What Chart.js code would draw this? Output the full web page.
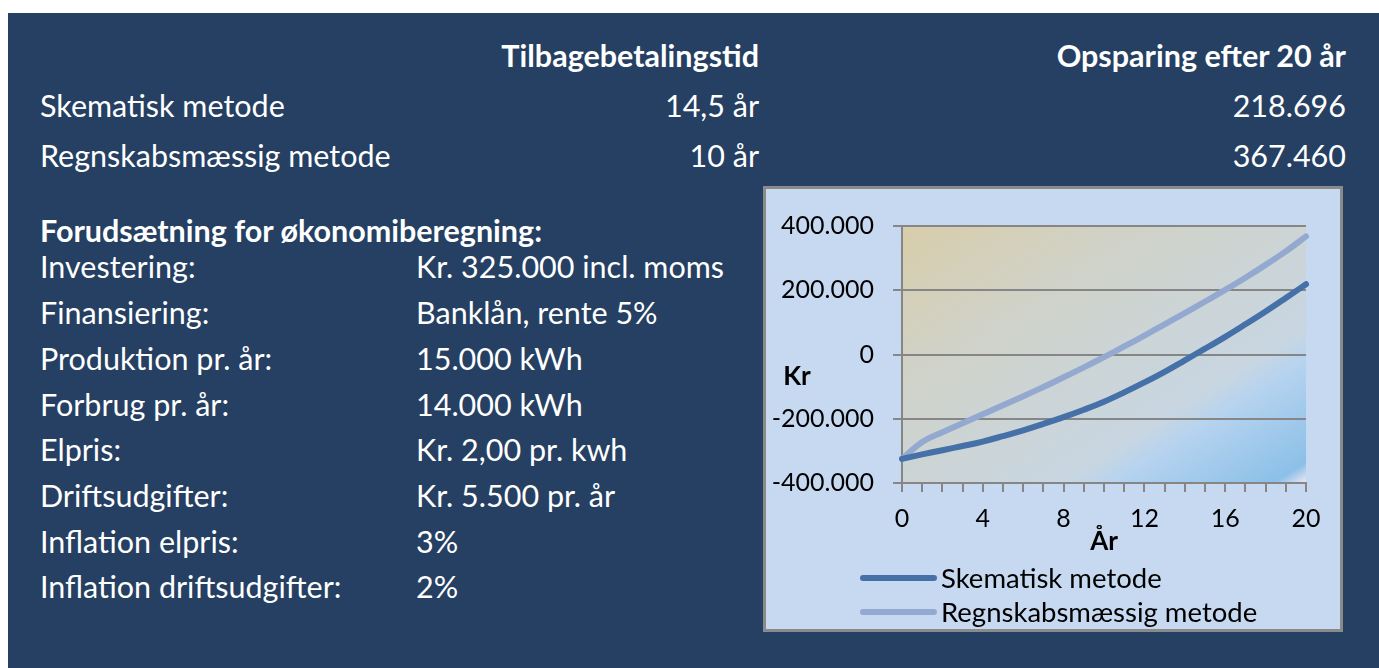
<!DOCTYPE html>
<html>
<head>
<meta charset="utf-8">
<script src="https://cdn.jsdelivr.net/npm/chart.js@4.4.0/dist/chart.umd.min.js"></script>
<style>
  body { margin: 0; background: #fff; width: 1379px; height: 668px; overflow: hidden; font-family: Lato, sans-serif; }
  #panel { position: absolute; left: 8px; top: 13px; width: 1371px; height: 655px; background: #254062; }
  .t { position: absolute; color: #fff; font-size: 30.5px; line-height: 1.2; white-space: nowrap; }
  .b { font-weight: bold; }
  .r { left: 0; text-align: right; }
  #box { position: absolute; left: 763px; top: 186px; width: 580px; height: 446px; box-sizing: border-box;
         border: 3px solid #8a8a8a; background: #c6d9f1; }
  #chart { display: block; }
</style>
</head>
<body>
<div id="panel"></div>

<div class="t b r" style="width:759px; top:36.5px">Tilbagebetalingstid</div>
<div class="t b r" style="width:1346px; top:36.5px">Opsparing efter 20 år</div>

<div class="t" style="left:40px; top:86.5px">Skematisk metode</div>
<div class="t r" style="width:759px; top:86.5px">14,5 år</div>
<div class="t r" style="width:1346px; top:86.5px">218.696</div>

<div class="t" style="left:40px; top:136.5px">Regnskabsmæssig metode</div>
<div class="t r" style="width:759px; top:136.5px">10 år</div>
<div class="t r" style="width:1346px; top:136.5px">367.460</div>

<div class="t b" style="left:40px; top:211.5px">Forudsætning for økonomiberegning:</div>
<div id="assumptions"></div>

<div id="box"><canvas id="chart" width="574" height="440"></canvas></div>

<script>
const years = [0, 1, 2, 3, 4, 5, 6, 7, 8, 9, 10, 11, 12, 13, 14, 15, 16, 17, 18, 19, 20];
const skematisk = [-325000, -311000, -298000, -285000, -271000, -254000, -236000, -216000, -195000, -172000,
  -147000, -118000, -87000, -54000, -18000, 18000, 55000, 94000, 134000, 176000, 218696];
const regnskab = [-325000, -272000, -242000, -214000, -186000, -158000, -130000, -101000, -71000, -40000,
  -8000, 25000, 59000, 94000, 129000, 165000, 201000, 239000, 279000, 321000, 367460];
const seriesNames = ['Skematisk metode', 'Regnskabsmæssig metode'];
const seriesColors = ['#4571a8', '#93a9d0'];

const labelsLeft = ['Investering:', 'Finansiering:', 'Produktion pr. år:', 'Forbrug pr. år:', 'Elpris:',
  'Driftsudgifter:', 'Inflation elpris:', 'Inflation driftsudgifter:'];
const labelsRight = ['Kr. 325.000 incl. moms', 'Banklån, rente 5%', '15.000 kWh', '14.000 kWh',
  'Kr. 2,00 pr. kwh', 'Kr. 5.500 pr. år', '3%', '2%'];

// assumption rows
const holder = document.getElementById('assumptions');
labelsLeft.forEach((txt, i) => {
  const top = 278.5 + 45.7 * i - 30.1;
  holder.innerHTML += `<div class="t" style="left:40px; top:${top}px">${txt}</div>
    <div class="t" style="left:416px; top:${top}px">${labelsRight[i]}</div>`;
});

function kr(v) {
  return String(v).replace(/\B(?=(\d{3})+(?!\d))/g, '.');
}

const plotBg = {
  id: 'plotBg',
  beforeDraw(chart) {
    const { ctx, chartArea: a } = chart;
    ctx.save();
    ctx.translate(a.left, a.top);
    ctx.scale(a.right - a.left, a.bottom - a.top);
    const g = ctx.createLinearGradient(0, 0, 1, 1);
    g.addColorStop(0, '#d8cdaa');
    g.addColorStop(0.3, '#d0d2c8');
    g.addColorStop(0.7, '#c8d6e2');
    g.addColorStop(0.76, '#b6d3ef');
    g.addColorStop(0.96, '#8cc0e8');
    g.addColorStop(1, '#f2e6f2');
    ctx.fillStyle = g;
    ctx.fillRect(0, 0, 1, 1);
    ctx.restore();
  }
};

const extras = {
  id: 'extras',
  afterDraw(chart) {
    const ctx = chart.ctx;
    ctx.save();
    ctx.fillStyle = '#000';
    ctx.font = 'bold 26px Lato';
    ctx.textAlign = 'center';
    ctx.textBaseline = 'middle';
    ctx.fillText('Kr', 31, 188);
    // legend
    ctx.font = '27.5px Lato';
    ctx.textAlign = 'left';
    chart.data.datasets.forEach((ds, i) => {
      const y = 389 + 34 * i;
      ctx.strokeStyle = ds.borderColor;
      ctx.lineWidth = 6;
      ctx.lineCap = 'round';
      ctx.beginPath();
      ctx.moveTo(97, y);
      ctx.lineTo(168, y);
      ctx.stroke();
      ctx.fillText(ds.label, 175, y + 1);
    });
    ctx.restore();
  }
};

Chart.defaults.font.family = 'Lato';
Chart.defaults.font.size = 25;
Chart.defaults.color = '#000';

new Chart(document.getElementById('chart'), {
  type: 'line',
  data: {
    labels: years,
    datasets: [
      { label: seriesNames[0], data: skematisk, borderColor: seriesColors[0] },
      { label: seriesNames[1], data: regnskab, borderColor: seriesColors[1] }
    ]
  },
  options: {
    responsive: false,
    devicePixelRatio: 1,
    animation: false,
    layout: { padding: { top: 37, right: 34, left: 0, bottom: 0 } },
    elements: {
      line: { borderWidth: 6, tension: 0.4, borderCapStyle: 'round' },
      point: { radius: 0 }
    },
    plugins: { legend: { display: false }, tooltip: { enabled: false } },
    scales: {
      x: {
        grid: { drawOnChartArea: false, drawTicks: true, tickLength: 9, color: '#868686', lineWidth: 2 },
        border: { color: '#868686', width: 2 },
        ticks: {
          autoSkip: false, maxRotation: 0, padding: 12,
          callback: (v, i) => (years[i] % 4 === 0 ? years[i] : '')
        },
        title: { display: true, text: 'År', font: { weight: 'bold', size: 26 }, padding: { top: 0, bottom: 72 } },
        afterFit(s) { s.height = 146; }
      },
      y: {
        min: -400000, max: 400000,
        grid: { color: '#868686', lineWidth: 2, tickLength: 9 },
        border: { color: '#868686', width: 2 },
        ticks: { stepSize: 200000, padding: 19, callback: v => kr(v) },
        afterFit(s) { s.width = 136; }
      }
    }
  },
  plugins: [plotBg, extras]
});
</script>
</body>
</html>
